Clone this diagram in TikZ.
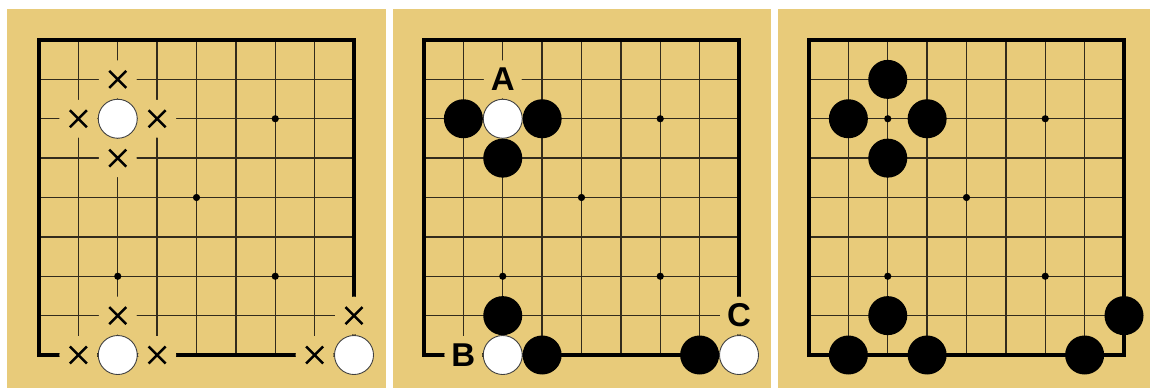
\documentclass[tikz,border=0pt]{standalone}
\usepackage{fontspec}
\setsansfont{Liberation Sans}
\definecolor{board}{RGB}{232,203,122}
\definecolor{gridc}{RGB}{50,43,28}
\tikzset{
  panel/.style={fill=board},
  gridline/.style={line width=1.4pt, draw=gridc},
  edgeline/.style={line width=3.2pt, draw=black},
  hoshi/.style={fill=black},
  stoneb/.style={fill=black},
  stonew/.style={fill=white, draw=black!75, line width=0.9pt},
  gap/.style={fill=board},
  xmark/.style={line width=2.5pt, draw=black},
  letter/.style={font=\sffamily\bfseries\fontsize{33}{33}\selectfont, inner sep=0pt},
  cross/.pic={
    \fill[gap] (0,0) circle[radius=19pt];
    \draw[xmark] (-8.5pt,-8.5pt) -- (8.5pt,8.5pt) (-8.5pt,8.5pt) -- (8.5pt,-8.5pt);
  },
}
% empty 9x9 board, grid units
\newcommand{\emptyboard}{%
  \foreach \k in {1,...,7} {
    \draw[gridline] (\k,0) -- (\k,8);
    \draw[gridline] (0,\k) -- (8,\k);
  }
  \draw[edgeline] (0,0) rectangle (8,8);
  \foreach \i/\j in {2/2,6/2,4/4,2/6,6/6}
    \fill[hoshi] (\i,\j) circle[radius=3.6pt];
}

\begin{document}
\begin{tikzpicture}[x=1pt, y=-1pt]
\useasboundingbox (0,0) rectangle (1150,388);

% panels
\fill[panel] (7,9) rectangle (386,388);
\fill[panel] (393,9) rectangle (771,388);
\fill[panel] (778,9) rectangle (1150,388);

% Board 1 -- liberties
\begin{scope}[shift={(39,40)}, x=39.375pt, y=-39.375pt]
  \emptyboard
  \foreach \i/\j in {2/1,1/2,3/2,2/3,2/7,1/8,3/8,8/7,7/8}
    \pic at (\i,\j) {cross};
  \foreach \i/\j in {2/2,2/8,8/8}
    \filldraw[stonew] (\i,\j) circle[radius=19.5pt];
\end{scope}

% Board 2 -- atari
\begin{scope}[shift={(424,40)}, x=39.375pt, y=-39.375pt]
  \emptyboard
  \foreach \i/\j in {2/1,1/8,8/7}
    \fill[gap] (\i,\j) circle[radius=19pt];
  \foreach \i/\j in {1/2,3/2,2/3,2/7,3/8,7/8}
    \fill[stoneb] (\i,\j) circle[radius=19.5pt];
  \foreach \i/\j in {2/2,2/8,8/8}
    \filldraw[stonew] (\i,\j) circle[radius=19.5pt];
  \node[letter] (ptA) at (2,1) {A};
  \node[letter] (ptB) at (1,8) {B};
  \node[letter] (ptC) at (8,7) {C};
\end{scope}

% Board 3 -- captured
\begin{scope}[shift={(809,40)}, x=39.375pt, y=-39.375pt]
  \emptyboard
  \foreach \i/\j in {2/1,1/2,3/2,2/3,2/7,1/8,3/8,7/8,8/7}
    \fill[stoneb] (\i,\j) circle[radius=19.5pt];
\end{scope}

\end{tikzpicture}
\end{document}
